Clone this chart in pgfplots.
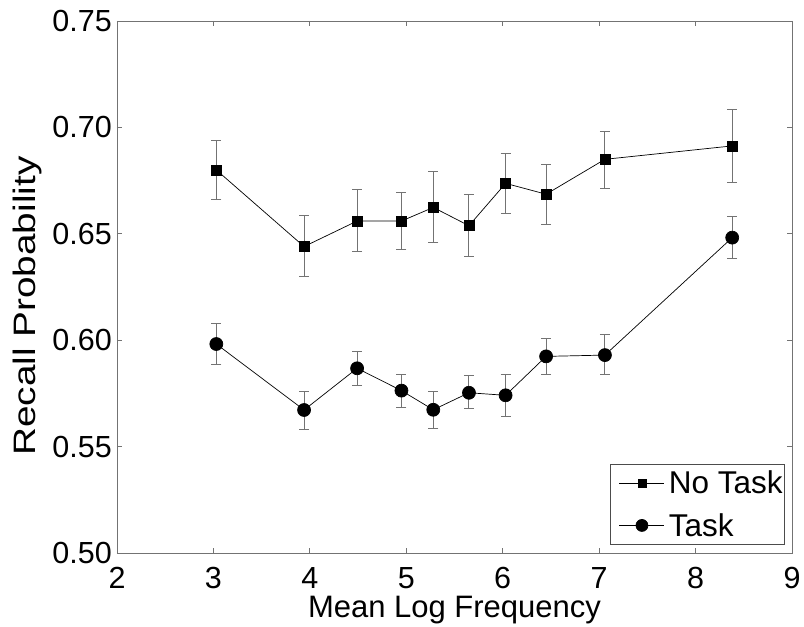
\documentclass[border=0pt]{standalone}
\usepackage{fontspec}
\setmainfont{Liberation Sans}
\usepackage{pgfplots}
\pgfplotsset{compat=1.18}

\begin{document}
\begin{tikzpicture}[x=1pt,y=1pt]
  \useasboundingbox (-117pt,-74pt) rectangle (687pt,553pt);
  \begin{axis}[
    at={(0pt,0pt)}, anchor=south west,
    scale only axis,
    width=675pt, height=532pt,
    xmin=2, xmax=9, ymin=0.5, ymax=0.75,
    xtick={2,3,...,9},
    ytick={0.50,0.55,0.60,0.65,0.70,0.75},
    tick align=inside,
    major tick length=5pt,
    tick style={black!55, line width=0.8pt},
    axis line style={black!55, line width=0.9pt},
    /pgf/number format/assume math mode=true,
    ticklabel style={font=\fontsize{30.5}{36}\selectfont},
    yticklabel style={/pgf/number format/fixed, /pgf/number format/fixed zerofill,
      /pgf/number format/precision=2, anchor=east, inner sep=0pt, xshift=-5pt},
    xticklabel style={anchor=base, inner sep=0pt, yshift=-35pt},
    xlabel={Mean Log Frequency},
    ylabel={Recall Probability},
    every axis x label/.style={at={(rel axis cs:0.5,0)}, anchor=base,
      yshift=-64pt, inner sep=0pt, font=\fontsize{31}{36}\selectfont},
    every axis y label/.style={at={(rel axis cs:0,0.464)}, anchor=center,
      xshift=-90pt, rotate=90, xscale=1.25, inner sep=0pt,
      font=\fontsize{31}{36}\selectfont},
    legend style={font=\fontsize{31.5}{36}\selectfont, draw=black!70, line width=0.8pt,
      at={(rel axis cs:1,0)}, anchor=south east, xshift=-7pt, yshift=8pt,
      inner xsep=2pt, inner ysep=7pt, row sep=18pt, column sep=4pt,
      nodes={inner sep=0pt}},
    legend cell align=left,
    legend image code/.code={
      \path (0pt,0pt);
      \draw[mark repeat=2, mark phase=2, #1]
        plot coordinates {(7pt,0pt) (29.5pt,0pt) (52pt,0pt)};},
  ]
    \addplot[black, line width=0.7pt, mark=square*, mark size=5pt,
      mark options={solid},
      legend image post style={mark size=4pt},
      error bars/.cd, y dir=both, y explicit,
      error bar style={black!55, line width=1pt},
      error mark options={rotate=90, black!55, line width=1pt, mark size=5pt}]
      table[x=x, y=y, y error plus=ep, y error minus=em] {
        x     y      ep     em
        3.03  0.680  0.014  0.014
        3.94  0.644  0.0145 0.0143
        4.49  0.656  0.0146 0.0144
        4.95  0.656  0.0134 0.0134
        5.28  0.6624 0.0168 0.0166
        5.65  0.6538 0.0146 0.0144
        6.03  0.6737 0.0141 0.0141
        6.45  0.6686 0.0139 0.0140
        7.06  0.685  0.0132 0.0135
        8.38  0.6913 0.0169 0.0170
      };
    \addlegendentry{No Task}
    \addplot[black, line width=0.7pt, mark=*, mark size=6.5pt,
      mark options={solid},
      legend image post style={mark size=6pt},
      error bars/.cd, y dir=both, y explicit,
      error bar style={black!55, line width=1pt},
      error mark options={rotate=90, black!55, line width=1pt, mark size=5pt}]
      table[x=x, y=y, y error plus=ep, y error minus=em] {
        x     y      ep     em
        3.03  0.5982 0.0098 0.0095
        3.94  0.5672 0.0088 0.0091
        4.49  0.5868 0.0081 0.0082
        4.95  0.5763 0.0078 0.0078
        5.28  0.5673 0.0088 0.0087
        5.65  0.5753 0.0079 0.0076
        6.03  0.5741 0.0099 0.0100
        6.45  0.5924 0.0083 0.0083
        7.06  0.5930 0.0095 0.0090
        8.38  0.6482 0.0098 0.0100
      };
    \addlegendentry{Task}
  \end{axis}
\end{tikzpicture}
\end{document}
